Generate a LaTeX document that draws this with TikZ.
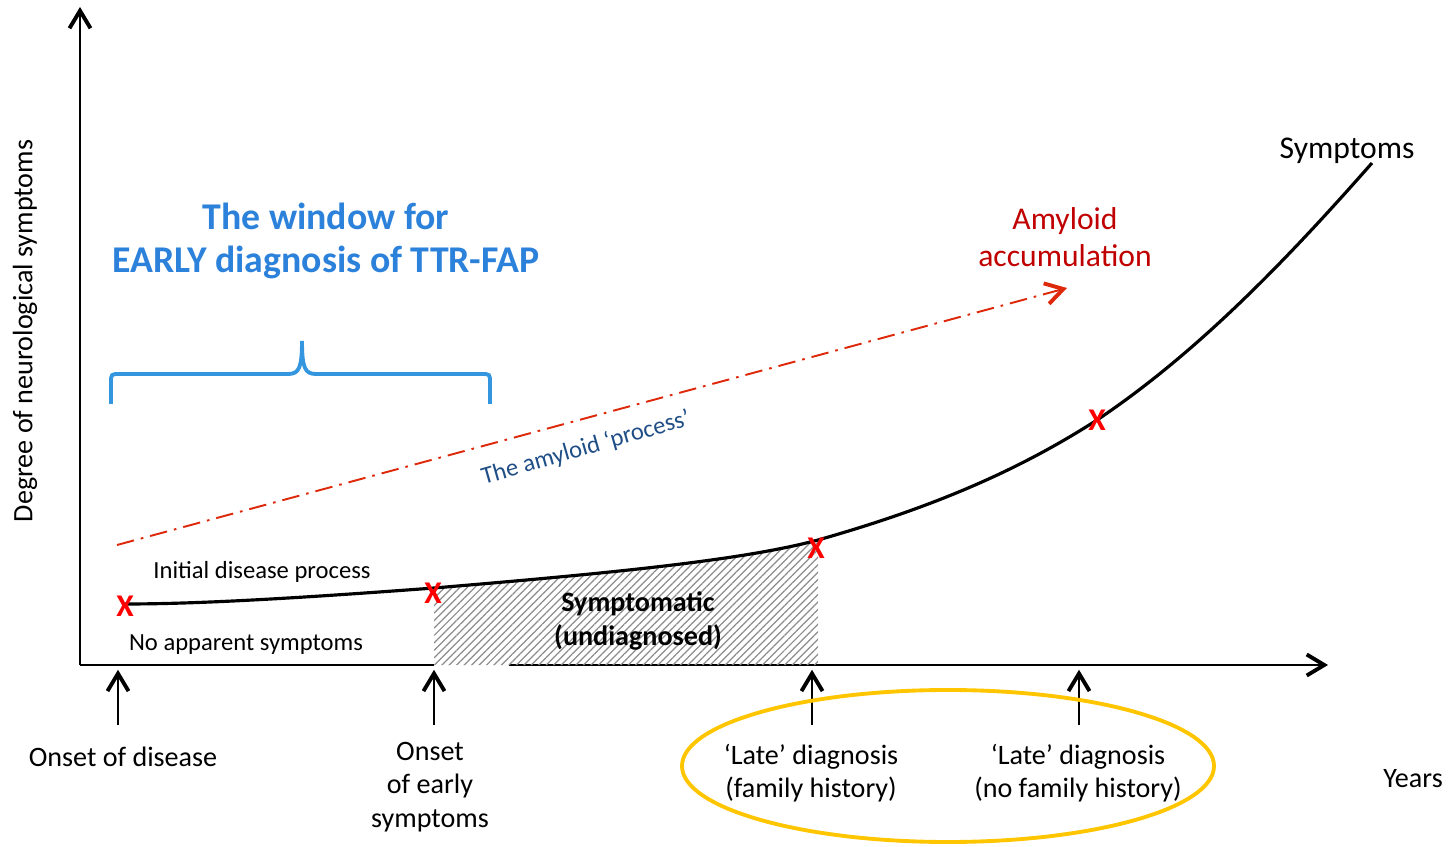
\documentclass[tikz,border=0pt]{standalone}
\usepackage{fontspec}
\setmainfont{Carlito}
\usetikzlibrary{arrows.meta,calc,positioning,patterns.meta}
\definecolor{winblue}{RGB}{44,130,218}
\definecolor{braceblue}{RGB}{52,150,222}
\definecolor{amyred}{RGB}{192,0,0}
\definecolor{arrred}{RGB}{222,40,10}
\definecolor{procblue}{RGB}{31,78,135}
\definecolor{lateyellow}{RGB}{255,198,0}

\begin{document}
\begin{tikzpicture}[x=0.02cm,y=0.02cm,
  barb/.style={-{Straight Barb[length=10pt,width=12pt,line width=2.2pt]}},
  xmark/.style={text=red,font=\fontsize{18}{18}\selectfont\bfseries,inner sep=0pt},
  lbl/.style={font=\fontsize{16}{19}\selectfont,align=center},
  small/.style={font=\fontsize{14}{17}\selectfont,inner sep=0pt}]
  \useasboundingbox (0,0) rectangle (1451,846);

  % Axes
  \coordinate (O) at (80,181);
  \draw[line width=1.2pt,barb] (O) -- (80,839) coordinate (ytop);
  \draw[line width=1.2pt,barb] (O) -- (1328,181) coordinate (xend);
  \node[lbl,rotate=90] (ylab) at (25,515) {Degree of neurological symptoms};
  \node[lbl] (years) at (1413,67) {Years};

  % Hatched band under the curve
  \begin{scope}
    \clip (434,181) rectangle (818,400);
    \fill[white] (434,178) rectangle (509,200);
    \fill[pattern={Lines[angle=45,distance=3pt,line width=0.7pt]},pattern color=black!45]
      (125,242) .. controls (200,242) and (300,248) .. (434,258)
      .. controls (600,272) and (740,285) .. (818,306)
      .. controls (920,335) and (1010,370) .. (1097,426)
      -- (1097,181) -- (125,181) -- cycle;
  \end{scope}
  \node[font=\fontsize{16}{19}\selectfont\bfseries,align=center] (symptomatic) at (638,225) {Symptomatic\\(undiagnosed)};

  % Symptom curve
  \draw[line width=1.8pt] (125,242) .. controls (200,242) and (300,248) .. (434,258)
    .. controls (600,272) and (740,285) .. (818,306)
    .. controls (920,335) and (1010,370) .. (1097,426)
    .. controls (1200,495) and (1290,590) .. (1372,683) coordinate (cend);
  \node[font=\fontsize{18}{21}\selectfont] (symptoms) at (1347,695) {Symptoms};

  % Markers on the curve
  \node[xmark] (x1) at (125,240) {X};
  \node[xmark] (x2) at (433,253) {X};
  \node[xmark] (x3) at (816,298) {X};
  \node[xmark] (x4) at (1097,426) {X};

  \node[small] (initial) at (262,274) {Initial disease process};
  \node[small] (noapp) at (246,201) {No apparent symptoms};

  % Amyloid process
  \coordinate (amy0) at (117,301);
  \coordinate (amy1) at (1067,558);
  \draw[arrred,line width=1.1pt,dash pattern=on 10pt off 4pt on 1.5pt off 4pt,
    -{Straight Barb[length=10pt,width=12pt,line width=2.2pt]}] (amy0) -- (amy1);
  \node[font=\fontsize{18}{21}\selectfont,text=amyred,align=center] (amyloid) at (1065,609) {Amyloid\\accumulation};
  \node[font=\fontsize{14}{17}\selectfont,text=procblue,rotate=16,inner sep=1pt] (process) at (586,398) {The amyloid ‘process’};

  % Early diagnosis window
  \node[font=\fontsize{21.5}{24.5}\selectfont\bfseries,text=winblue,align=center] (window) at (326,605) {The window for\\EARLY diagnosis of TTR-FAP};
  \draw[braceblue,line width=2.2pt] (111,442) -- (111,463) .. controls (111,472) .. (120,472)
    -- (288,472) .. controls (299,472) and (302,478) .. (302,505)
    .. controls (302,478) and (305,472) .. (316,472)
    -- (481,472) .. controls (490,472) .. (490,463) -- (490,442);

  % Time points
  \node[lbl] (onset) at (123,89) {Onset of disease};
  \node[lbl] (early) at (430,59) {Onset\\of early\\symptoms};
  \node[lbl] (late1) at (811,73) {‘Late’ diagnosis\\(family history)};
  \node[lbl] (late2) at (1078,73) {‘Late’ diagnosis\\(no family history)};
  \foreach \x in {118,434,812,1079} {
    \draw[line width=0.8pt,barb,shorten >=1pt] (\x,121) -- (\x,178);
  }

  % Late diagnosis ring
  \draw[lateyellow,line width=2.2pt] (948,80) ellipse [x radius=266, y radius=76];
\end{tikzpicture}
\end{document}
